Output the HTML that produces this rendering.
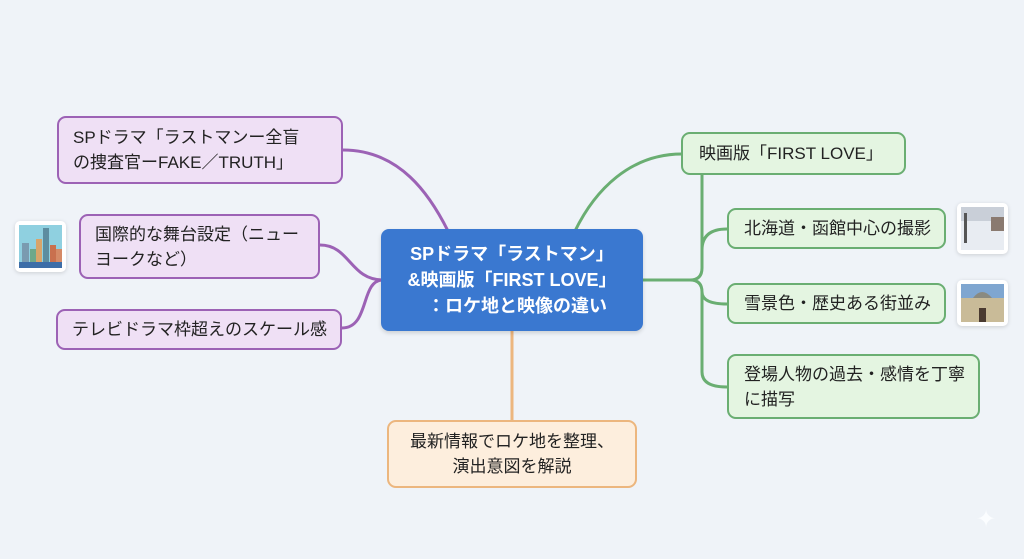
<!DOCTYPE html>
<html><head><meta charset="utf-8">
<style>
html,body{margin:0;padding:0;}
body{width:1024px;height:559px;background:#eff3f8;position:relative;overflow:hidden;font-family:"Liberation Sans","Noto Sans CJK JP",sans-serif;color:#222;}
.b{position:absolute;box-sizing:border-box;border-radius:9px;font-size:17px;line-height:25px;display:flex;align-items:center;white-space:nowrap;}
.p{background:#efe0f5;border:2.5px solid #9c62b5;}
.g{background:#e4f5e1;border:2.5px solid #6aae72;}
.o{background:#fdeedd;border:2.5px solid #ecb67e;justify-content:center;text-align:center;}
.c{background:#3a78d0;color:#fff;font-weight:bold;font-size:18px;line-height:26px;justify-content:center;text-align:center;border-radius:8px;box-shadow:0 2px 4px rgba(0,0,0,.15);}
.img{position:absolute;border-radius:5px;background:#fff;box-shadow:0 1px 4px rgba(0,0,0,.15);padding:4px;box-sizing:border-box;}
</style></head><body>
<svg width="1024" height="559" style="position:absolute;left:0;top:0" fill="none" stroke-width="3">
<path d="M343 150 C400 150 430 195 448 231" stroke="#9c62b5"/>
<path d="M320 245 C350 245 350 280 383 280" stroke="#9c62b5"/>
<path d="M342 328 C370 328 360 280 383 280" stroke="#9c62b5"/>
<path d="M575 231 C595 190 630 154 682 154" stroke="#6aae72"/>
<path d="M641 280 L690 280 Q702 280 702 268 L702 175" stroke="#6aae72"/>
<path d="M690 280 Q702 280 702 292 L702 372 Q702 387 727 387" stroke="#6aae72"/>
<path d="M702 250 Q702 229 727 229" stroke="#6aae72"/>
<path d="M702 292 Q702 304 727 304" stroke="#6aae72"/>
<path d="M512 330 L512 421" stroke="#ecb67e"/>
</svg>
<div class="b p" style="left:57px;top:116px;width:286px;height:68px;padding-left:14px;">SPドラマ「ラストマンー全盲<br>の捜査官ーFAKE／TRUTH」</div>
<div class="b p" style="left:79px;top:214px;width:241px;height:65px;padding-left:14px;">国際的な舞台設定（ニュー<br>ヨークなど）</div>
<div class="b p" style="left:56px;top:309px;width:286px;height:41px;padding-left:14px;">テレビドラマ枠超えのスケール感</div>
<div class="img" style="left:15px;top:221px;width:51px;height:51px;">
<svg width="43" height="43"><rect width="43" height="43" fill="#8fd0e0"/><rect x="3" y="18" width="7" height="22" fill="#7a9bb0"/><rect x="11" y="24" width="6" height="16" fill="#6fa88a"/><rect x="17" y="14" width="6" height="26" fill="#d9a46a"/><rect x="24" y="3" width="6" height="37" fill="#5d8da0"/><rect x="31" y="20" width="6" height="20" fill="#c9704e"/><rect x="37" y="24" width="6" height="16" fill="#d58a66"/><rect y="37" width="43" height="6" fill="#3d6ea8"/></svg></div>
<div class="b c" style="left:381px;top:229px;width:262px;height:102px;">SPドラマ「ラストマン」<br>&amp;映画版「FIRST LOVE」<br>&nbsp;&nbsp;：ロケ地と映像の違い</div>
<div class="b o" style="left:387px;top:420px;width:250px;height:68px;">最新情報でロケ地を整理、<br>演出意図を解説</div>
<div class="b g" style="left:681px;top:132px;width:225px;height:43px;padding-left:16px;">映画版「FIRST LOVE」</div>
<div class="b g" style="left:727px;top:208px;width:219px;height:41px;padding-left:15px;">北海道・函館中心の撮影</div>
<div class="b g" style="left:727px;top:283px;width:219px;height:41px;padding-left:15px;">雪景色・歴史ある街並み</div>
<div class="b g" style="left:727px;top:354px;width:253px;height:65px;padding-left:15px;">登場人物の過去・感情を丁寧<br>に描写</div>
<div class="img" style="left:957px;top:203px;width:51px;height:51px;">
<svg width="43" height="43"><rect width="43" height="43" fill="#e8ecf2"/><rect width="43" height="14" fill="#c9cfd8"/><rect x="30" y="10" width="13" height="14" fill="#8a7a70"/><rect x="3" y="6" width="3" height="30" fill="#555"/></svg></div>
<div class="img" style="left:957px;top:280px;width:51px;height:46px;">
<svg width="43" height="38"><rect width="43" height="38" fill="#7fa6d0"/><rect x="0" y="14" width="43" height="24" fill="#c9bb98"/><path d="M12 14 Q21 2 31 14Z" fill="#8a8a80"/><rect x="18" y="24" width="7" height="14" fill="#4a3a30"/></svg></div>
<div style="position:absolute;left:976px;top:505px;color:#fbfdff;font-size:24px;">✦</div>
</body></html>
